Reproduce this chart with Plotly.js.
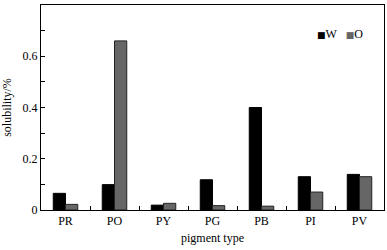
<!DOCTYPE html>
<html><head><meta charset="utf-8">
<script src="https://cdn.plot.ly/plotly-3.0.1.min.js"></script>
<style>html,body{margin:0;padding:0;background:#fff}#c{width:387px;height:250px}</style>
</head><body><div id="c"></div>
<script>
var categories = ["PR","PO","PY","PG","PB","PI","PV"];
var seriesW = [0.065, 0.099, 0.019, 0.118, 0.400, 0.130, 0.139];
var seriesO = [0.022, 0.660, 0.026, 0.017, 0.015, 0.070, 0.130];
var seriesNames = ["W", "O"];
var yTickVals = [0, 0.2, 0.4, 0.6, 0.8];
var yTickText = ["0","0.2","0.4","0.6","0.8"];

var FAM = "'Liberation Serif', 'Times New Roman', serif";
var font = {family: FAM, size: 12, color: "#000"};
var data = [
  {type:"bar", name:seriesNames[0], x:categories, y:seriesW, showlegend:false, marker:{color:"#000", line:{color:"#000", width:1}}},
  {type:"bar", name:seriesNames[1], x:categories, y:seriesO, showlegend:false, marker:{color:"#666", line:{color:"#222", width:1}}}
];
var legendText = '<span style="font-family:DejaVu Sans;font-size:9px;color:#000">■</span>' + seriesNames[0] +
  '&nbsp;&nbsp;&nbsp;<span style="font-family:DejaVu Sans;font-size:9px;color:#666">■</span>' + seriesNames[1];
var layout = {
  width:387, height:250,
  margin:{l:41, r:3, t:5, b:40},
  paper_bgcolor:"#fff", plot_bgcolor:"#fff",
  font: font,
  barmode:"group", bargap:0.5, bargroupgap:0,
  showlegend:false,
  annotations:[{xref:"paper", yref:"paper", x:0.80, y:0.86, xanchor:"left", yanchor:"middle",
                showarrow:false, text:legendText, font:{family:FAM, size:12, color:"#000"}}],
  xaxis:{type:"category", showline:true, mirror:true, linecolor:"#000", linewidth:1,
         ticks:"inside", tickson:"boundaries", ticklen:4, tickcolor:"#000",
         showgrid:false, zeroline:false,
         title:{text:"pigment type", font:{family:FAM, size:12}, standoff:6},
         tickfont:{family:FAM, size:12}},
  yaxis:{range:[0,0.8], showline:true, mirror:true, linecolor:"#000", linewidth:1,
         tickvals:yTickVals, ticktext:yTickText, ticks:"inside", ticklen:4, tickcolor:"#000",
         minor:{dtick:0.1, ticks:"inside", ticklen:4, tickcolor:"#000", showgrid:false},
         showgrid:false, zeroline:false,
         title:{text:"solubility/%", font:{family:FAM, size:12}, standoff:8},
         tickfont:{family:FAM, size:12}}
};
Plotly.newPlot("c", data, layout, {displayModeBar:false, staticPlot:true});
</script></body></html>
